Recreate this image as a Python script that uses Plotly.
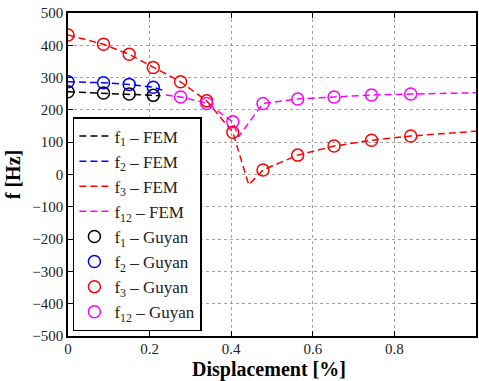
import plotly.graph_objects as go

# FEM curves
x_f1_fem = [0, 0.087, 0.15, 0.209, 0.227]
y_f1_fem = [256, 252, 249, 245, 244]
x_f2_fem = [0, 0.087, 0.15, 0.209, 0.232]
y_f2_fem = [287, 284, 279, 270, 261]
x_f3_fem = [0, 0.087, 0.15, 0.209, 0.276, 0.34, 0.404, 0.443, 0.478, 0.563, 0.652, 0.744, 0.84, 1.0]
y_f3_fem = [432, 403, 372, 331, 287, 228, 131, -32, 14, 60, 88, 106, 119, 134]
x_f12_fem = [0.24, 0.276, 0.34, 0.404, 0.418, 0.478, 0.563, 0.652, 0.744, 0.84, 1.0]
y_f12_fem = [246, 240, 221, 163, 117, 220, 234, 240, 246, 249, 253]

# Guyan points
x_f1_guy = [0, 0.087, 0.15, 0.209]
y_f1_guy = [256, 252, 249, 245]
x_f2_guy = [0, 0.087, 0.15, 0.209]
y_f2_guy = [287, 284, 279, 270]
x_f3_guy = [0, 0.087, 0.15, 0.209, 0.276, 0.34, 0.404, 0.478, 0.563, 0.652, 0.744, 0.84]
y_f3_guy = [432, 403, 372, 331, 287, 228, 131, 14, 60, 88, 106, 119]
x_f12_guy = [0.276, 0.34, 0.404, 0.478, 0.563, 0.652, 0.744, 0.84]
y_f12_guy = [240, 220, 163, 220, 234, 240, 246, 249]

x_ticks = [0, 0.2, 0.4, 0.6, 0.8, 1]
x_ticktext = ["0", "0.2", "0.4", "0.6", "0.8", "1"]
y_ticks = [-500, -400, -300, -200, -100, 0, 100, 200, 300, 400, 500]
y_ticktext = ["\u2212500", "\u2212400", "\u2212300", "\u2212200", "\u2212100", "0", "100", "200", "300", "400", "500"]

colors = ["#000000", "#0000ff", "#ff0000", "#ff00ff"]
names = ["1", "2", "3", "12"]
fem = [(x_f1_fem, y_f1_fem), (x_f2_fem, y_f2_fem), (x_f3_fem, y_f3_fem), (x_f12_fem, y_f12_fem)]
guy = [(x_f1_guy, y_f1_guy), (x_f2_guy, y_f2_guy), (x_f3_guy, y_f3_guy), (x_f12_guy, y_f12_guy)]

fig = go.Figure()
for (x, y), c, n in zip(fem, colors, names):
    fig.add_trace(go.Scatter(x=x, y=y, mode="lines", name=f"f<sub>{n}</sub> \u2013 FEM",
                             line=dict(color=c, width=1.5, dash="7px,4px")))
for (x, y), c, n in zip(guy, colors, names):
    fig.add_trace(go.Scatter(x=x, y=y, mode="markers", name=f"f<sub>{n}</sub> \u2013 Guyan",
                             marker=dict(symbol="circle-open", size=12, color=c, line=dict(width=1.5, color=c))))

axis_common = dict(showline=True, linecolor="black", linewidth=1.5, mirror="allticks",
                   ticks="inside", ticklen=5, tickcolor="black", tickwidth=1,
                   showgrid=True, gridcolor="#a0a0a0", griddash="dot", gridwidth=1,
                   zeroline=False, tickfont=dict(family="Liberation Serif", size=15, color="#222"))

fig.update_xaxes(range=[0, 1], tickvals=x_ticks, ticktext=x_ticktext, ticklabelstandoff=-2, **axis_common)
fig.update_yaxes(range=[-500, 500], tickvals=y_ticks, ticktext=y_ticktext,
                 title=dict(text="<b>f [Hz]</b>", font=dict(family="Liberation Serif", size=20, color="black"), standoff=6),
                 **axis_common)

fig.add_annotation(text="<b>Displacement [%]</b>", xref="paper", yref="paper",
                   x=0.493, y=-0.104, xanchor="center", yanchor="middle", showarrow=False,
                   borderpad=0,
                   font=dict(family="Liberation Serif", size=20, color="black"))

fig.update_layout(
    width=479, height=381,
    margin=dict(l=68, r=1, t=13, b=45),
    paper_bgcolor="white", plot_bgcolor="white",
    showlegend=True,
    legend=dict(x=0.012, y=0.678, xanchor="left", yanchor="top",
                bgcolor="white", bordercolor="black", borderwidth=1.5,
                font=dict(family="Liberation Serif", size=17, color="#222"),
                itemwidth=30, tracegroupgap=0),
)

fig.write_html("out.html")
